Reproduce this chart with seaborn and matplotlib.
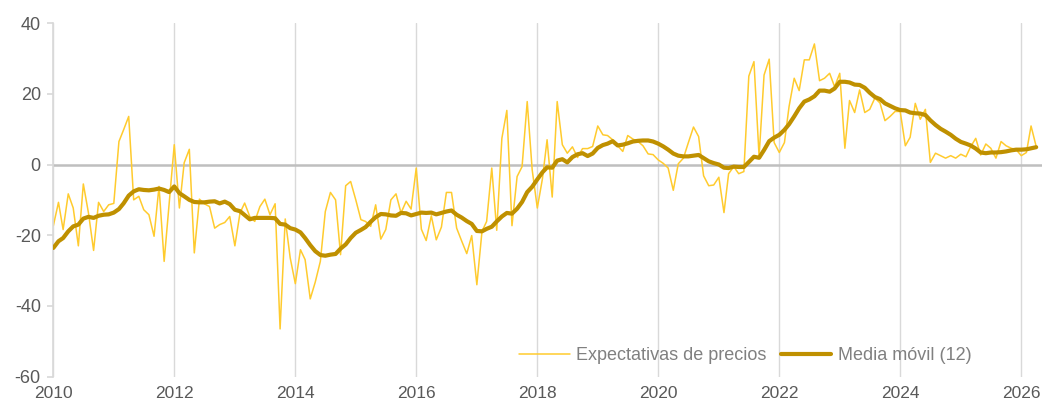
import matplotlib
matplotlib.use("Agg")
import matplotlib.pyplot as plt
import matplotlib.dates as mdates
import seaborn as sns
import pandas as pd

sns.set_theme(style="white")
plt.rcParams['font.family'] = ['Liberation Sans', 'DejaVu Sans']
plt.rcParams['axes.unicode_minus'] = False

# monthly series, Jan 2010 .. Apr 2026
precios = [
    -17.3, -10.7, -18.4, -8.3, -12.3, -23.0, -5.5, -13.7, -24.3, -10.7, -13.3, -11.4,
    -11.0, 6.5, 9.8, 13.6, -10.0, -9.0, -12.8, -14.2, -20.3, -6.2, -27.4, -11.0,
    5.6, -12.3, 0.5, 4.3, -25.0, -9.8, -11.1, -11.9, -18.0, -17.0, -16.4, -14.7,
    -23.0, -13.7, -10.9, -14.7, -16.1, -11.9, -9.8, -14.2, -11.1, -46.5, -15.4, -26.4,
    -33.7, -24.1, -26.9, -38.0, -33.3, -27.4, -13.3, -7.9, -10.0, -25.5, -6.0, -4.8,
    -10.0, -15.6, -16.1, -17.5, -11.4, -21.1, -18.4, -10.0, -8.3, -13.7, -10.4, -12.6,
    -1.0, -18.3, -21.5, -14.5, -21.3, -17.7, -7.9, -7.9, -18.0, -21.6, -25.2, -20.1,
    -34.0, -18.9, -16.1, -1.0, -18.6, 7.4, 15.3, -17.3, -3.4, -0.6, 17.8, -1.5,
    -12.3, -4.0, 7.0, -9.2, 17.8, 5.6, 3.2, 5.0, 2.0, 4.5, 4.5, 5.1,
    10.9, 8.4, 8.2, 7.0, 5.3, 3.7, 8.2, 7.2, 6.5, 5.3, 3.0, 2.8,
    1.3, 0.3, -1.0, -7.3, 0.2, 1.8, 6.2, 10.6, 7.9, -3.2, -6.0, -5.8,
    -3.6, -13.6, -2.6, -0.6, -2.6, -2.0, 25.0, 29.1, 2.3, 25.3, 29.8, 6.2,
    3.4, 6.2, 16.4, 24.4, 20.9, 29.6, 29.6, 34.1, 23.7, 24.4, 25.8, 22.0,
    25.8, 4.6, 18.1, 14.7, 21.1, 14.7, 15.6, 18.8, 17.4, 12.4, 13.6, 15.0,
    15.0, 5.3, 7.7, 17.3, 12.8, 15.6, 0.6, 3.2, 2.5, 1.8, 2.5, 1.8,
    2.9, 2.2, 5.0, 7.4, 2.7, 5.8, 4.6, 1.8, 6.5, 5.3, 4.6, 4.2,
    2.5, 3.4, 10.9, 5.1,
]

media = [
    -23.6, -21.7, -20.8, -18.9, -17.5, -17.0, -15.3, -14.8, -15.1, -14.5, -14.2, -14.1,
    -13.6, -12.6, -11.0, -8.8, -7.6, -7.0, -7.2, -7.3, -7.1, -6.8, -7.2, -7.8,
    -6.2, -8.1, -9.0, -10.0, -10.6, -10.7, -10.7, -10.5, -10.4, -11.0, -10.5, -11.2,
    -12.8, -13.2, -14.3, -15.5, -15.1, -15.1, -15.1, -15.1, -15.2, -16.8, -17.0, -18.0,
    -18.4, -19.2, -20.8, -22.8, -24.5, -25.6, -25.8, -25.5, -25.3, -23.8, -22.6, -20.8,
    -19.3, -18.5, -17.7, -16.2, -14.9, -14.0, -14.1, -14.4, -14.5, -13.7, -13.8, -14.4,
    -14.0, -13.6, -13.7, -13.6, -14.1, -13.7, -13.3, -13.0, -14.2, -15.0, -16.0, -16.8,
    -18.8, -18.9, -18.2, -17.6, -16.1, -14.7, -13.7, -13.9, -12.5, -10.6, -7.8, -6.3,
    -4.2, -2.2, -0.8, -0.9, 1.1, 1.5, 0.6, 2.1, 2.9, 3.2, 2.4, 3.1,
    4.7, 5.5, 5.9, 6.6, 5.4, 5.6, 6.0, 6.5, 6.7, 6.8, 6.8, 6.5,
    5.9, 5.1, 4.2, 3.1, 2.5, 2.3, 2.3, 2.5, 2.7, 1.8, 0.9, 0.4,
    0.0, -0.9, -1.0, -0.6, -0.7, -0.7, 0.7, 2.2, 1.9, 4.1, 6.6, 7.6,
    8.4, 9.8, 11.4, 13.6, 15.9, 17.8, 18.4, 19.3, 20.9, 20.9, 20.6, 21.5,
    23.4, 23.4, 23.2, 22.6, 22.5, 21.7, 20.3, 19.1, 18.5, 17.3, 16.6, 15.9,
    15.4, 15.3, 14.7, 14.5, 14.4, 14.0, 12.5, 11.2, 10.1, 9.3, 8.4, 7.3,
    6.4, 5.9, 5.4, 4.5, 3.4, 3.2, 3.4, 3.4, 3.5, 3.7, 4.0, 4.2,
    4.2, 4.3, 4.6, 4.9,
]

fechas = pd.date_range("2010-01-01", periods=len(precios), freq="MS")
df = pd.DataFrame({"fecha": fechas, "precios": precios, "media": media})

fig, ax = plt.subplots(figsize=(10.46, 4.05), dpi=100)
fig.subplots_adjust(left=0.051, right=0.996, top=0.943, bottom=0.07)

ax.axhline(0, color="#BFBFBF", lw=1.8, zorder=1)
sns.lineplot(data=df, x="fecha", y="precios", color="#FFCB2E", lw=1.1,
             label="Expectativas de precios", ax=ax, zorder=2)
sns.lineplot(data=df, x="fecha", y="media", color="#BF9000", lw=3,
             label="Media móvil (12)", ax=ax, zorder=3)

ax.set_ylim(-60, 40)
ax.set_yticks(range(-60, 41, 20))
ax.set_xlim(pd.Timestamp("2010-01-01"), pd.Timestamp("2026-05-05"))
ax.xaxis.set_major_locator(mdates.YearLocator(2))
ax.xaxis.set_major_formatter(mdates.DateFormatter("%Y"))
ax.set_axisbelow(True)
ax.grid(axis="x", color="#D9D9D9", lw=1)
ax.grid(axis="y", visible=False)
ax.set_xlabel("")
ax.set_ylabel("")

sns.despine(ax=ax, top=True, right=True, bottom=True)
ax.spines['left'].set_color('#D9D9D9')
ax.tick_params(axis='y', left=True, length=4, pad=5, color='#D9D9D9',
               labelcolor='#595959', labelsize=13)
ax.tick_params(axis='x', bottom=False, pad=1, labelcolor='#595959', labelsize=12.5)

ax.legend(loc="center", bbox_to_anchor=(0.70, 0.06), ncol=2, frameon=False,
          handlelength=2.8, columnspacing=0.8, handletextpad=0.35,
          fontsize=13, labelcolor="#808080")

fig.savefig("out.png", dpi=100)
